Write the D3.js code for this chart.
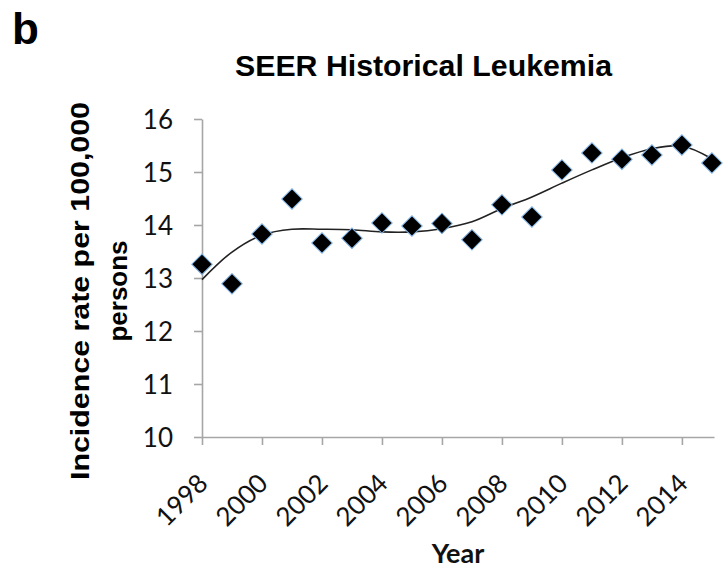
<!DOCTYPE html>
<html>
<head>
<meta charset="utf-8">
<script src="https://cdn.jsdelivr.net/npm/d3@7"></script>
<style>
  body { margin: 0; background: #fff; }
  svg { display: block; }
</style>
</head>
<body>
<svg id="chart"></svg>
<script>
// data
var years = [1998, 1999, 2000, 2001, 2002, 2003, 2004, 2005, 2006, 2007, 2008, 2009, 2010, 2011, 2012, 2013, 2014, 2015];
var incidence = [13.26, 12.89, 13.83, 14.49, 13.66, 13.75, 14.04, 13.98, 14.03, 13.72, 14.38, 14.15, 15.04, 15.36, 15.24, 15.32, 15.51, 15.17];
// polynomial trendline as drawn (read at each year)
var trend = [12.97, 13.49, 13.81, 13.92, 13.92, 13.91, 13.87, 13.87, 13.93, 14.06, 14.31, 14.53, 14.79, 15.04, 15.27, 15.44, 15.49, 15.25];
var xTicks = [1998, 2000, 2002, 2004, 2006, 2008, 2010, 2012, 2014];
var yTicks = [10, 11, 12, 13, 14, 15, 16];

var width = 727,
    height = 571;

var svg = d3.select("#chart")
    .attr("width", width)
    .attr("height", height);

var x = d3.scaleLinear()
    .domain([1998, 2015.07])
    .range([202, 714]);

var y = d3.scaleLinear()
    .domain([10, 16])
    .range([437, 119]);

// panel letter + title
svg.append("text")
    .attr("x", 12).attr("y", 44)
    .attr("font-family", "Liberation Sans, Arial, sans-serif")
    .attr("font-weight", "bold")
    .attr("font-size", 44)
    .text("b");

svg.append("text")
    .attr("x", 423.5).attr("y", 76)
    .attr("text-anchor", "middle")
    .attr("font-family", "Liberation Sans, Arial, sans-serif")
    .attr("font-weight", "bold")
    .attr("font-size", 29)
    .attr("textLength", 377)
    .attr("lengthAdjust", "spacingAndGlyphs")
    .text("SEER Historical Leukemia");

// axes
var gx = svg.append("g")
    .attr("transform", "translate(0," + y(10) + ")")
    .call(d3.axisBottom(x).tickValues(xTicks).tickSize(8).tickSizeOuter(0).tickFormat(d3.format("d")));

var gy = svg.append("g")
    .attr("transform", "translate(" + x(1998) + ",0)")
    .call(d3.axisLeft(y).tickValues(yTicks).tickSize(8).tickSizeOuter(0).tickFormat(d3.format("d")));

[gx, gy].forEach(function(g){
  g.select(".domain").attr("stroke", "#a6a6a6").attr("stroke-width", 1.6);
  g.selectAll(".tick line").attr("stroke", "#a6a6a6").attr("stroke-width", 1.6);
  g.selectAll(".tick text")
    .attr("font-family", "Lato, Calibri, sans-serif")
    .attr("font-size", 26)
    .attr("fill", "#111");
});

gy.selectAll(".tick text").attr("x", -29).attr("dy", "0.36em");

gx.selectAll(".tick text")
    .attr("text-anchor", "end")
    .attr("dy", 0)
    .attr("y", 0)
    .attr("transform", "translate(7,48) rotate(-45)");

// axis titles
svg.append("text")
    .attr("x", 458).attr("y", 563)
    .attr("text-anchor", "middle")
    .attr("font-family", "Lato, Calibri, sans-serif")
    .attr("font-weight", "bold")
    .attr("font-size", 27)
    .attr("fill", "#111")
    .text("Year");

var yt = svg.append("text")
    .attr("transform", "translate(0,291) rotate(-90)")
    .attr("text-anchor", "middle")
    .attr("font-family", "Liberation Sans, Arial, sans-serif")
    .attr("font-weight", "bold")
    .attr("font-size", 26);
yt.append("tspan").attr("x", 0).attr("y", 89)
    .attr("textLength", 378).attr("lengthAdjust", "spacingAndGlyphs")
    .text("Incidence rate per 100,000");
yt.append("tspan").attr("x", 0).attr("y", 127).text("persons");

// trendline
var line = d3.line()
    .x(function(d, i) { return x(years[i]); })
    .y(function(d) { return y(d); })
    .curve(d3.curveCatmullRom);

svg.append("path")
    .datum(trend)
    .attr("d", line)
    .attr("fill", "none")
    .attr("stroke", "#222")
    .attr("stroke-width", 1.6);

// diamonds
var diamond = d3.symbol().type(d3.symbolSquare).size(210);

svg.selectAll(".pt")
    .data(incidence)
    .enter().append("path")
      .attr("class", "pt")
      .attr("d", diamond)
      .attr("transform", function(d, i) { return "translate(" + x(years[i]) + "," + y(d) + ") rotate(45)"; })
      .attr("fill", "#000")
      .attr("stroke", "#7fb2e5")
      .attr("stroke-width", 1);
</script>
</body>
</html>
